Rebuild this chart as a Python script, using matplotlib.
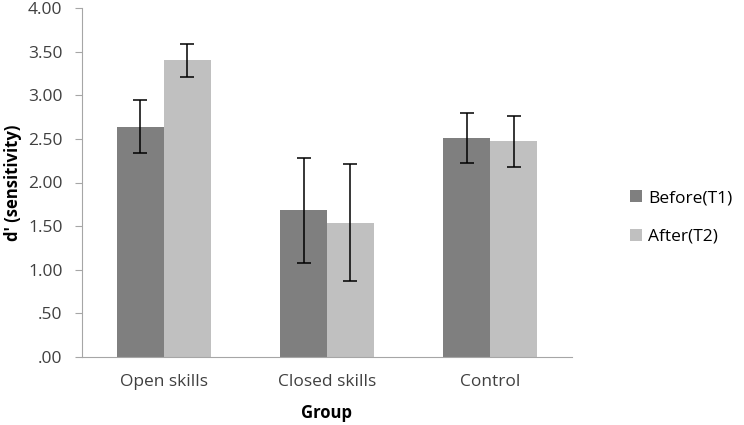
import numpy as np
import matplotlib.pyplot as plt
from matplotlib.ticker import FuncFormatter

# groups and the two measurement times
groups = ['Open skills', 'Closed skills', 'Control']
before = [2.64, 1.68, 2.51]
after = [3.40, 1.54, 2.47]
before_err = [0.30, 0.60, 0.29]
after_err = [0.19, 0.67, 0.29]

plt.rcParams['font.family'] = ['Open Sans', 'DejaVu Sans']

fig = plt.figure(figsize=(7.44, 4.25), dpi=100)
ax = fig.add_axes([82 / 744, 1 - 357 / 425, 490 / 744, 349 / 425])

x = np.arange(len(groups)) + 0.5
w = 0.287
err_kw = dict(ecolor='black', elinewidth=1.1, capsize=5, capthick=1.1)
ax.bar(x - w / 2, before, w, yerr=before_err, color='#7f7f7f',
       label='Before(T1)', error_kw=err_kw)
ax.bar(x + w / 2, after, w, yerr=after_err, color='#c0c0c0',
       label='After(T2)', error_kw=err_kw)

ax.set_xlim(0, 3)
ax.set_ylim(0, 4)
ax.set_yticks(np.arange(0, 4.01, 0.5))
ax.yaxis.set_major_formatter(FuncFormatter(lambda v, p: ('%.2f' % v).lstrip('0') if v < 1 else '%.2f' % v))
ax.set_xticks(x)
ax.set_xticklabels(groups)
ax.tick_params(axis='x', length=0, pad=12, labelsize=12.5, colors='#404040')
ax.tick_params(axis='y', length=5, color='#a6a6a6', labelsize=12.5, labelcolor='#404040', pad=9)

for s in ['top', 'right']:
    ax.spines[s].set_visible(False)
for s in ['left', 'bottom']:
    ax.spines[s].set_color('#a6a6a6')

ax.set_xlabel('Group', fontweight='bold', fontsize=12, labelpad=10)
ax.set_ylabel("d' (sensitivity)", fontweight='bold', fontsize=12, labelpad=4)

ax.legend(loc='center left', bbox_to_anchor=(1.10, 0.40), frameon=False,
          fontsize=12.5, handlelength=0.7, handleheight=0.7, handletextpad=0.35,
          labelspacing=1.3, borderpad=0)

fig.savefig('out.png', dpi=100)
